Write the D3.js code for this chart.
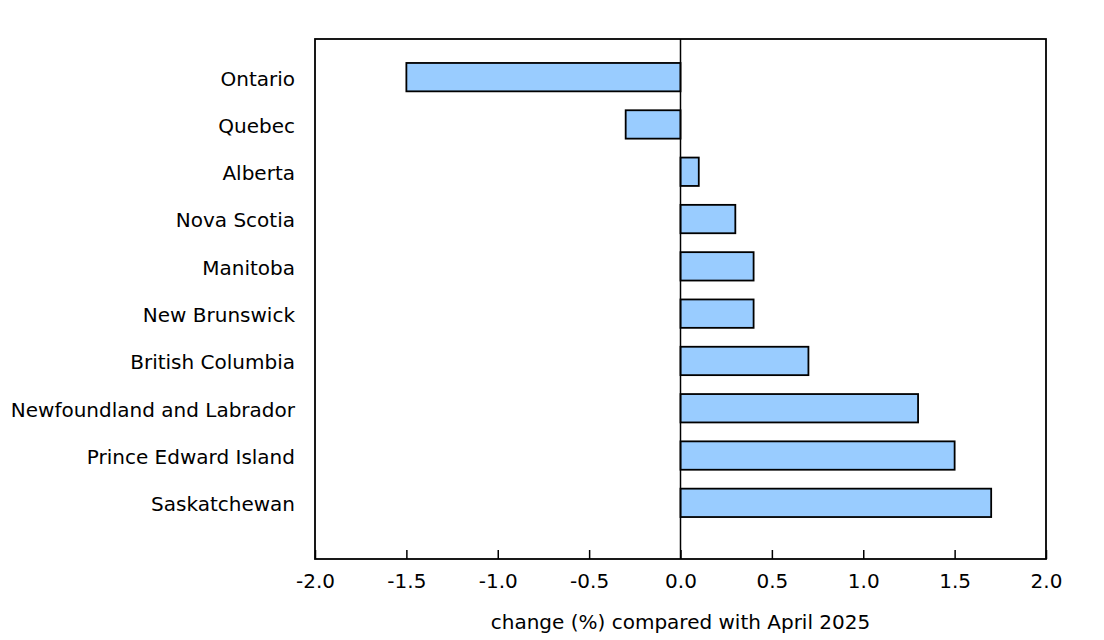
<!DOCTYPE html>
<html>
<head>
<meta charset="utf-8">
<script src="https://cdn.jsdelivr.net/npm/d3@7"></script>
<style>
  body { margin: 0; background: #fff; }
  svg text { font-family: Verdana, "DejaVu Sans", sans-serif; fill: #000; }
</style>
</head>
<body>
<svg id="chart" width="1104" height="640"></svg>
<script>
// --- Data ---
const provinces = [
    'Ontario', 'Quebec', 'Alberta', 'Nova Scotia', 'Manitoba',
    'New Brunswick', 'British Columbia', 'Newfoundland and Labrador',
    'Prince Edward Island', 'Saskatchewan'
];
const changes = [-1.5, -0.3, 0.1, 0.3, 0.4, 0.4, 0.7, 1.3, 1.5, 1.7];
const xTicks = [-2.0, -1.5, -1.0, -0.5, 0.0, 0.5, 1.0, 1.5, 2.0];
const xTitle = 'change (%) compared with April 2025';

const data = provinces.map((p, i) => ({ name: p, value: changes[i] }));

const plot = { left: 315, right: 1046, top: 39, bottom: 559 };
const fontSize = 20;
const svg = d3.select('#chart');

const x = d3.scaleLinear().domain([-2, 2]).range([plot.left, plot.right]);
const y = d3.scaleBand()
    .domain(provinces)
    .range([53.5, 526.5])
    .paddingInner(0.4)
    .paddingOuter(0.2);

// Bars
svg.selectAll('.bar')
    .data(data)
    .join('rect')
    .attr('class', 'bar')
    .attr('x', d => x(Math.min(0, d.value)))
    .attr('y', d => y(d.name))
    .attr('width', d => Math.abs(x(d.value) - x(0)))
    .attr('height', y.bandwidth())
    .attr('fill', '#99ccff')
    .attr('stroke', '#000')
    .attr('stroke-width', 1.8);

// Zero line
svg.append('line')
    .attr('x1', x(0)).attr('x2', x(0))
    .attr('y1', plot.top).attr('y2', plot.bottom)
    .attr('stroke', '#000').attr('stroke-width', 1.5);

// Frame
svg.append('rect')
    .attr('x', plot.left).attr('y', plot.top)
    .attr('width', plot.right - plot.left).attr('height', plot.bottom - plot.top)
    .attr('fill', 'none').attr('stroke', '#000').attr('stroke-width', 1.8);

// X axis (ticks point inward), hyphen minus signs like the original
const fmt = d => d3.format('.1f')(d).replace('\u2212', '-');
const xAxis = svg.append('g')
    .attr('transform', `translate(0,${plot.bottom})`)
    .call(d3.axisBottom(x).tickValues(xTicks).tickFormat(fmt).tickSizeInner(-9).tickSizeOuter(0).tickPadding(15));
xAxis.select('.domain').remove();
xAxis.selectAll('.tick line').attr('stroke', '#000').attr('stroke-width', 1.5);
xAxis.selectAll('text').attr('font-size', fontSize).style('font-family', 'Verdana, "DejaVu Sans", sans-serif');

// Y axis labels
const yAxis = svg.append('g')
    .attr('transform', `translate(${plot.left},0)`)
    .call(d3.axisLeft(y).tickSize(0).tickPadding(20));
yAxis.select('.domain').remove();
yAxis.selectAll('text').attr('font-size', fontSize).attr('dy', '0.42em')
    .style('font-family', 'Verdana, "DejaVu Sans", sans-serif');

// Axis title
svg.append('text')
    .attr('x', x(0)).attr('y', 629)
    .attr('text-anchor', 'middle')
    .attr('font-size', fontSize)
    .text(xTitle);
</script>
</body>
</html>
